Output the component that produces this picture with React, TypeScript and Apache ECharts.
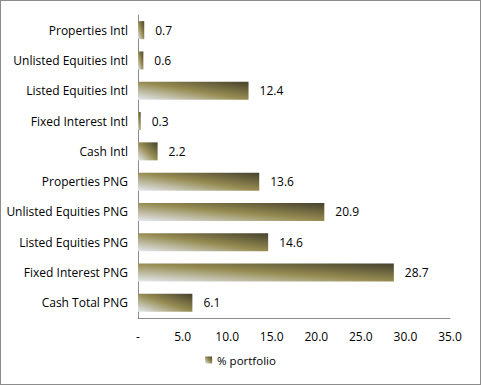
import React, { useEffect, useRef } from "react";
import * as echarts from "echarts";

const categories = [
  "Cash Total PNG",
  "Fixed Interest PNG",
  "Listed Equities PNG",
  "Unlisted Equities PNG",
  "Properties PNG",
  "Cash Intl",
  "Fixed Interest Intl",
  "Listed Equities Intl",
  "Unlisted Equities Intl",
  "Properties Intl",
];
const values = [6.1, 28.7, 14.6, 20.9, 13.6, 2.2, 0.3, 12.4, 0.6, 0.7];
const seriesName = "% portfolio";

const FONT = "'Open Sans', 'Noto Sans', sans-serif";

export default function App() {
  const ref = useRef<HTMLDivElement>(null);
  useEffect(() => {
    if (!ref.current) return;
    const chart = echarts.init(ref.current, undefined, { renderer: "svg" });
    const grad = new echarts.graphic.LinearGradient(0, 1, 1, 0, [
      { offset: 0, color: "#e4e8ef" },
      { offset: 0.5, color: "#968c52" },
      { offset: 1, color: "#46412d" },
    ]);
    chart.setOption({
      animation: false,
      backgroundColor: "transparent",
      grid: { left: 138, right: 31, top: 15, bottom: 67, containLabel: false },
      legend: {
        bottom: 14,
        left: "center",
        itemWidth: 7,
        itemHeight: 7,
        itemGap: 4,
        icon: "rect",
        textStyle: { fontFamily: FONT, fontSize: 11.5, color: "#000" },
        data: [{ name: seriesName, itemStyle: { color: grad } }],
      },
      xAxis: {
        type: "value",
        min: 0,
        max: 35,
        interval: 5,
        axisLine: { show: true, lineStyle: { color: "#8c8c8c", width: 1 } },
        axisTick: { show: false },
        splitLine: { show: false },
        axisLabel: {
          margin: 12,
          fontFamily: FONT,
          fontSize: 12,
          color: "#000",
          formatter: (v: number) => (v === 0 ? "-" : v.toFixed(1)),
        },
      },
      yAxis: {
        type: "category",
        data: categories,
        axisLine: { show: true, lineStyle: { color: "#8c8c8c", width: 1 } },
        axisTick: { show: false },
        axisLabel: {
          margin: 10,
          fontFamily: FONT,
          fontSize: 12,
          color: "#000",
        },
      },
      series: [
        {
          name: seriesName,
          type: "bar",
          data: values,
          barWidth: 18,
          itemStyle: { color: grad },
          label: {
            show: true,
            position: "right",
            distance: 11,
            fontFamily: FONT,
            fontSize: 12,
            color: "#000",
            formatter: (p: any) => p.value.toFixed(1),
          },
        },
      ],
    });
    return () => chart.dispose();
  }, []);
  return (
    <div
      style={{
        position: "fixed",
        left: 0,
        top: 0,
        width: 481,
        height: 385,
        boxSizing: "border-box",
        border: "1px solid #8c8c8c",
        background: "#fff",
      }}
    >
      <div ref={ref} style={{ position: "absolute", left: -1, top: -1, width: 481, height: 385 }} />
    </div>
  );
}
